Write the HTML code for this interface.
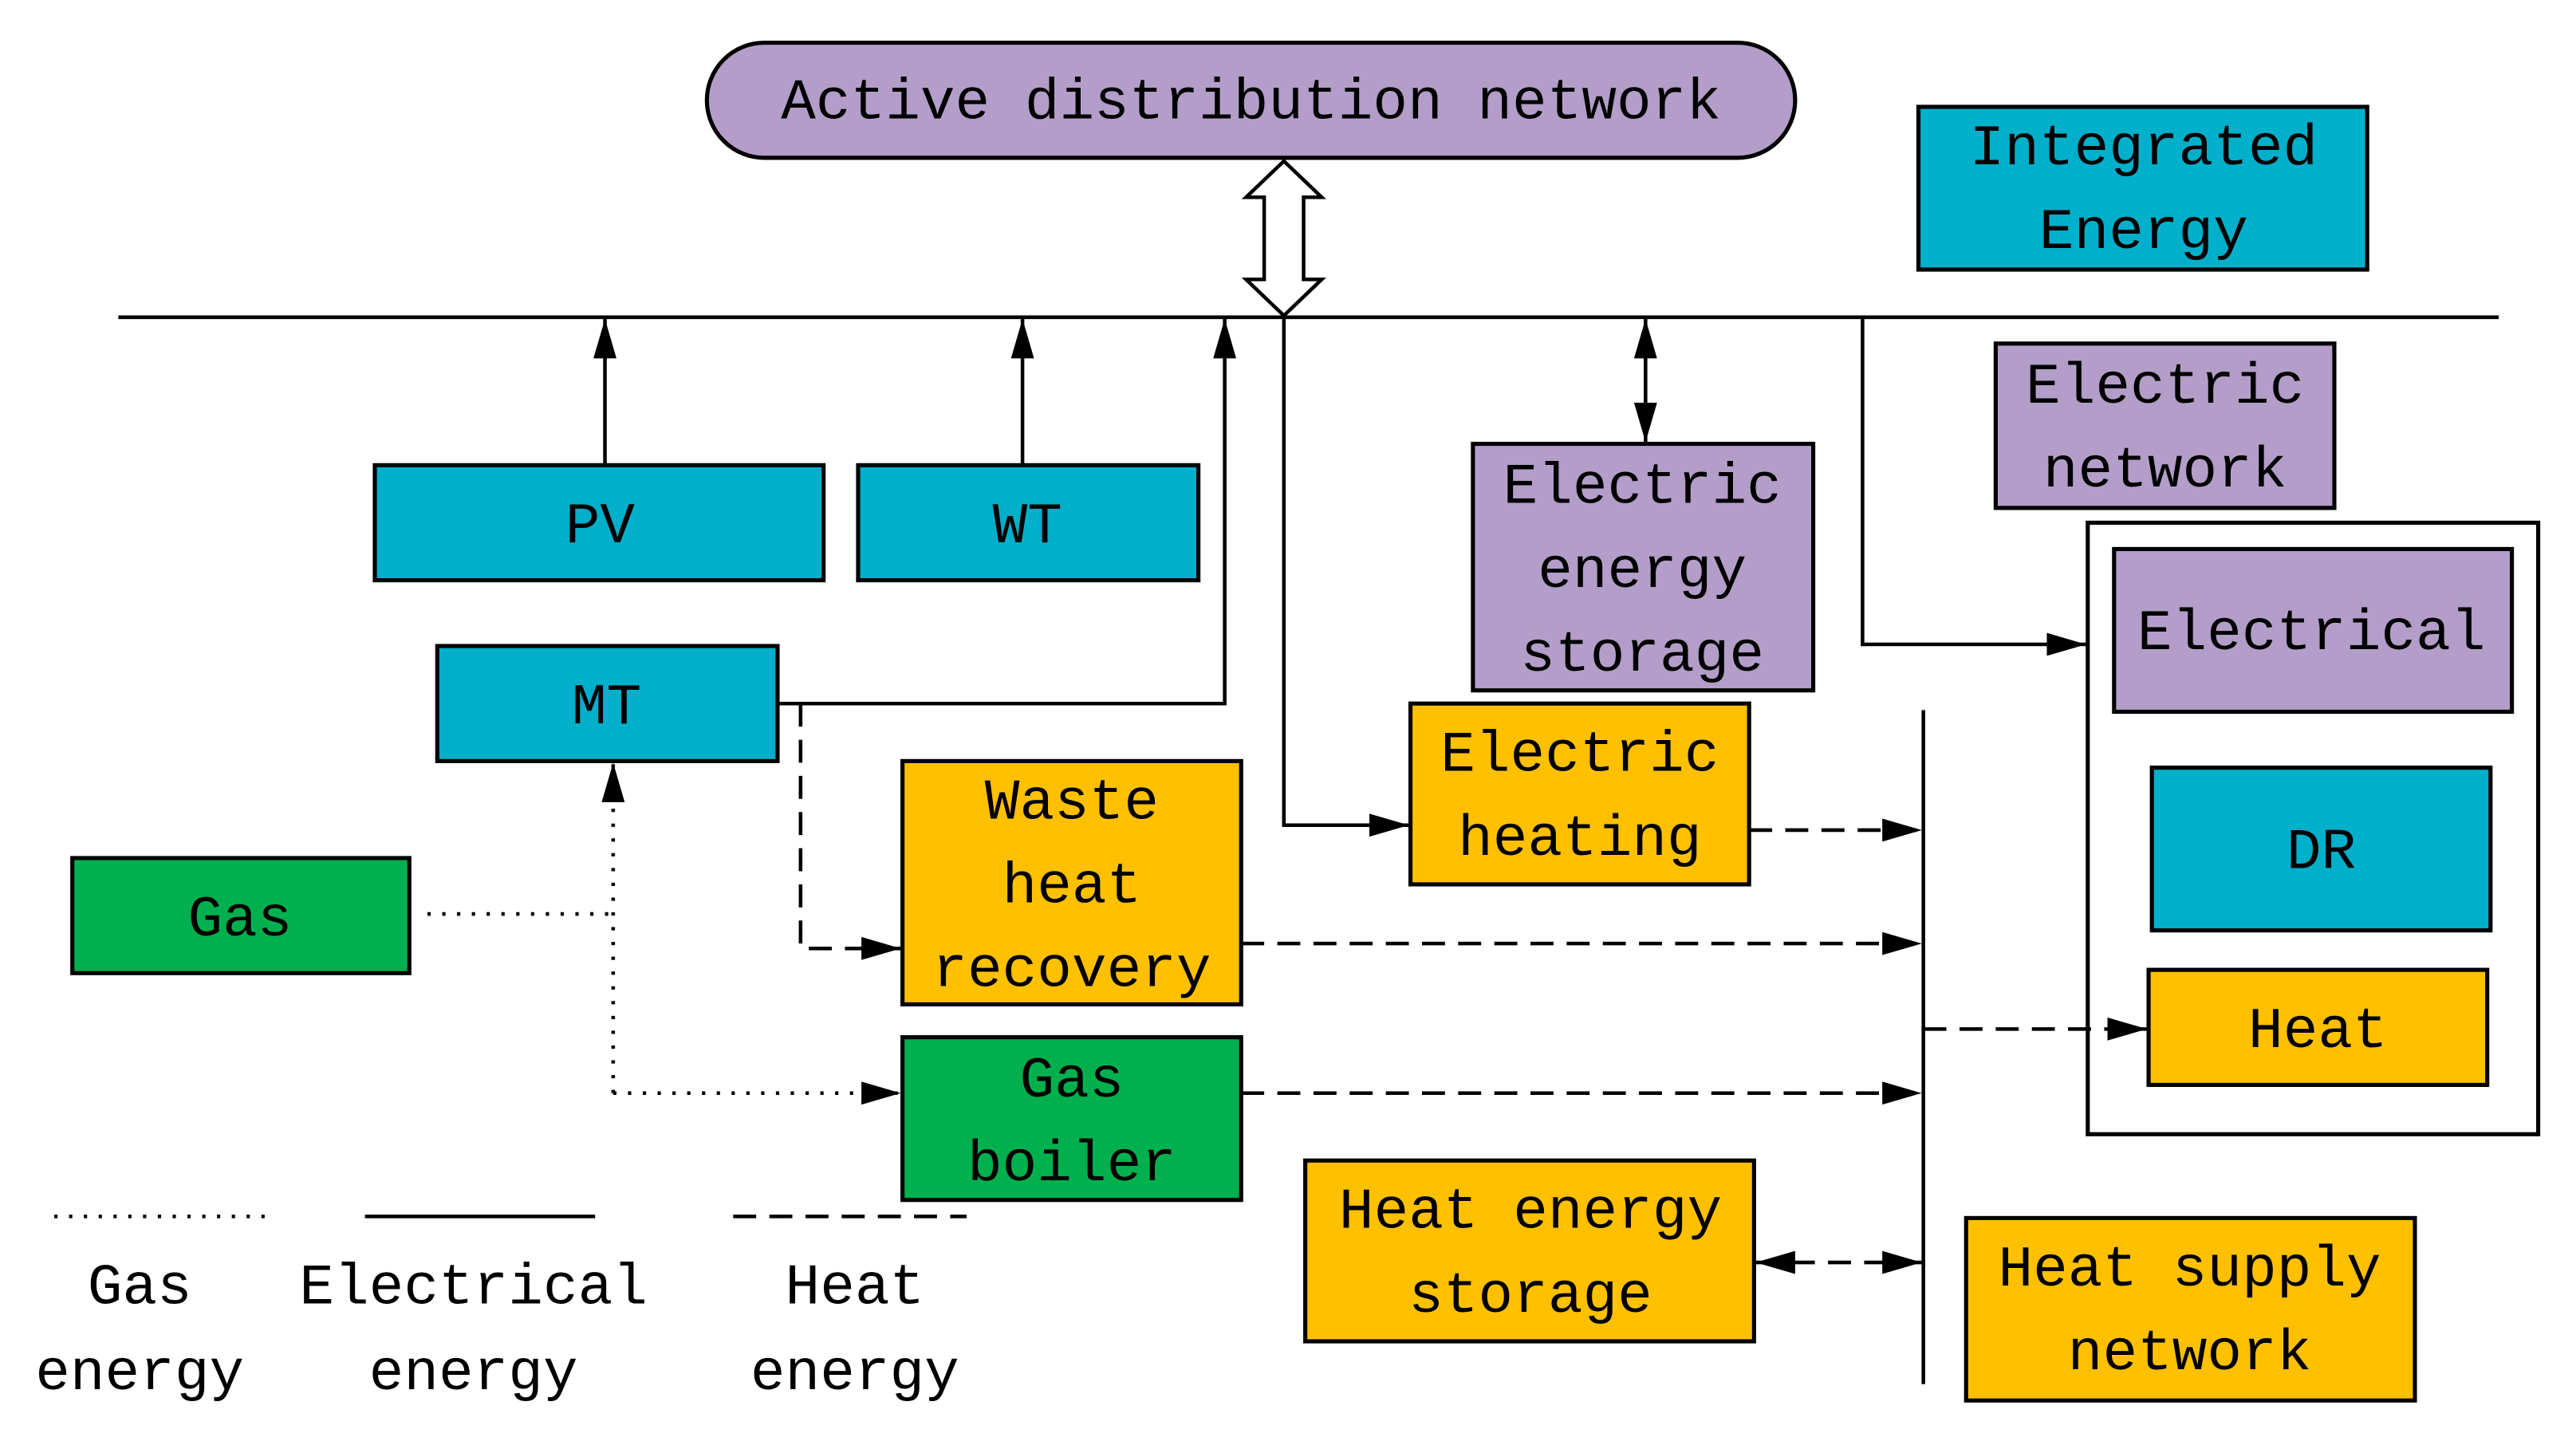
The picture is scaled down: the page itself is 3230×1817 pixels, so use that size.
<!DOCTYPE html>
<html><head><meta charset="utf-8"><style>html,body{margin:0;padding:0;background:#fff}svg{display:block}</style></head><body>
<svg width="3230" height="1817" viewBox="0 0 1567 881.5" preserveAspectRatio="none" xmlns="http://www.w3.org/2000/svg">
<defs>
<marker id="a" viewBox="0 0 24 14" refX="24" refY="7" markerWidth="24" markerHeight="14" markerUnits="userSpaceOnUse" orient="auto-start-reverse"><path d="M0,0 L24,7 L0,14 z" fill="#000"/></marker>
</defs>
<g font-family="Liberation Mono, monospace" font-size="35.3" text-anchor="middle" fill="#000">
<g stroke="#000" stroke-width="2.5">
<rect x="430" y="26" width="662" height="70" rx="35" fill="#b29ec8"/>
<rect x="1167" y="65" width="273" height="99" fill="#00afca"/>
<rect x="228" y="283" width="273" height="70" fill="#00afca"/>
<rect x="522" y="283" width="207" height="70" fill="#00afca"/>
<rect x="266" y="393" width="207" height="70" fill="#00afca"/>
<rect x="896" y="270" width="207" height="150" fill="#b29ec8"/>
<rect x="1214" y="209" width="206" height="100" fill="#b29ec8"/>
<rect x="1270" y="318" width="274" height="372" fill="none"/>
<rect x="1286" y="334" width="242" height="99" fill="#b29ec8"/>
<rect x="1309" y="467" width="206" height="99" fill="#00afca"/>
<rect x="1307" y="590" width="206" height="70" fill="#ffc000"/>
<rect x="858" y="428" width="206" height="110" fill="#ffc000"/>
<rect x="549" y="463" width="206" height="148" fill="#ffc000"/>
<rect x="44" y="522" width="205" height="70" fill="#00b04f"/>
<rect x="549" y="631" width="206" height="99" fill="#00b04f"/>
<rect x="794" y="706" width="273" height="110" fill="#ffc000"/>
<rect x="1196" y="741" width="273" height="111" fill="#ffc000"/>
</g>
<g stroke="#000" stroke-width="2.2" fill="none">
<line x1="72" y1="193" x2="1520" y2="193"/>
<path d="M781,98 L804,120 L793,120 L793,170 L804,170 L781,192 L758,170 L769,170 L769,120 L758,120 Z" fill="#fff"/>
<line x1="368" y1="283" x2="368" y2="194" marker-end="url(#a)"/>
<line x1="622" y1="283" x2="622" y2="194" marker-end="url(#a)"/>
<polyline points="473,428 745,428 745,194" marker-end="url(#a)"/>
<polyline points="781,193 781,502 857,502" marker-end="url(#a)"/>
<line x1="1001" y1="194" x2="1001" y2="269" marker-start="url(#a)" marker-end="url(#a)"/>
<polyline points="1133,193 1133,392 1269,392" marker-end="url(#a)"/>
<line x1="1170" y1="432" x2="1170" y2="842"/>
<line x1="33" y1="740" x2="168" y2="740" stroke-dasharray="2,7"/>
<line x1="222" y1="740" x2="362" y2="740"/>
<line x1="446" y1="740" x2="588" y2="740" stroke-dasharray="14,8"/>
<g stroke-dasharray="14,8">
<line x1="1064" y1="505" x2="1169" y2="505" marker-end="url(#a)"/>
<line x1="755" y1="574" x2="1169" y2="574" marker-end="url(#a)"/>
<polyline points="487,428 487,577 548,577" marker-end="url(#a)"/>
<line x1="755" y1="665" x2="1169" y2="665" marker-end="url(#a)"/>
<line x1="1170" y1="626" x2="1306" y2="626" marker-end="url(#a)"/>
<line x1="1068" y1="768" x2="1169" y2="768" marker-start="url(#a)" marker-end="url(#a)"/>
</g>
<g stroke-dasharray="2,7">
<line x1="260" y1="556" x2="373" y2="556"/>
<polyline points="373,665 373,464" marker-end="url(#a)"/>
<line x1="373" y1="665" x2="548" y2="665" marker-end="url(#a)"/>
</g>
</g>
<text x="761" y="72">Active distribution network</text>
<text x="1304" y="100">Integrated</text><text x="1304" y="151">Energy</text>
<text x="365" y="330">PV</text>
<text x="625" y="330">WT</text>
<text x="369" y="440">MT</text>
<text x="999" y="306">Electric</text><text x="999" y="357">energy</text><text x="999" y="408">storage</text>
<text x="1317" y="245">Electric</text><text x="1317" y="296">network</text>
<text x="1406" y="395">Electrical</text>
<text x="1412" y="528">DR</text>
<text x="1410" y="637">Heat</text>
<text x="961" y="469">Electric</text><text x="961" y="520">heating</text>
<text x="652" y="498">Waste</text><text x="652" y="549">heat</text><text x="652" y="600">recovery</text>
<text x="146" y="569">Gas</text>
<text x="652" y="667">Gas</text><text x="652" y="718">boiler</text>
<text x="931" y="747">Heat energy</text><text x="931" y="798">storage</text>
<text x="1332" y="782">Heat supply</text><text x="1332" y="833">network</text>
<text x="85" y="793">Gas</text><text x="85" y="845">energy</text>
<text x="288" y="793">Electrical</text><text x="288" y="845">energy</text>
<text x="520" y="793">Heat</text><text x="520" y="845">energy</text>
</g>
</svg>
</body></html>
